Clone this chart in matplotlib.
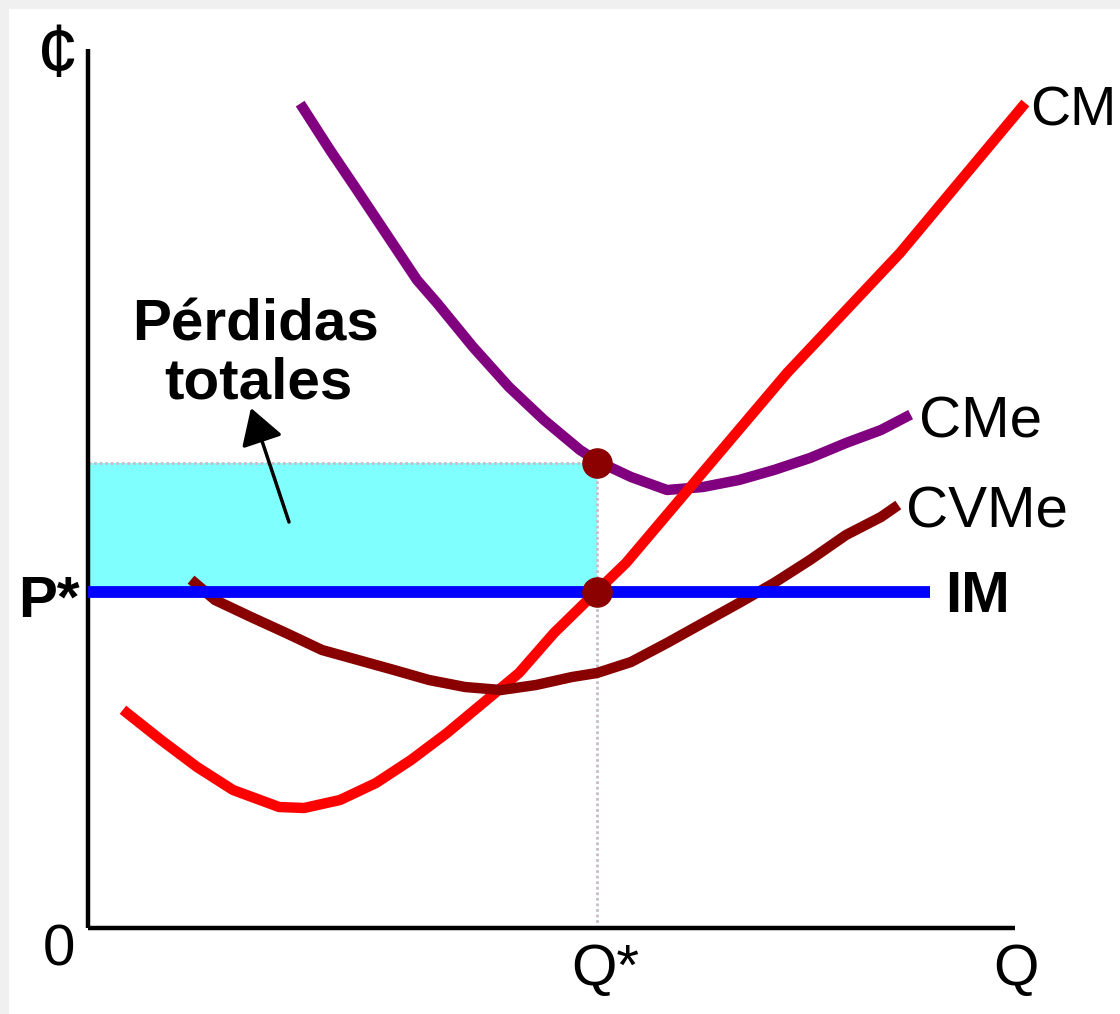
import matplotlib
matplotlib.use('Agg')
import matplotlib.pyplot as plt

plt.rcParams['font.family'] = ['Liberation Sans', 'DejaVu Sans']

# cantidades (Q) y costes (¢)
q_star = 509
p_star = 336
cme_at_q = 465
im_end = 842

cm_q = [39, 73, 109, 145, 191, 216, 252, 288, 323, 359, 395, 431, 466, 509, 538, 699, 812, 934]
cm_c = [215, 188, 161, 138, 121, 120, 128, 145, 168, 195, 225, 255, 295, 337, 365, 555, 675, 821]

cme_q = [215, 242, 269, 297, 329, 349, 385, 421, 456, 492, 509, 543, 579, 615, 651, 686, 722, 758, 793, 818]
cme_c = [820, 778, 738, 696, 648, 625, 581, 541, 508, 478, 467, 451, 438, 441, 448, 458, 470, 485, 498, 511]

cvme_q = [107, 127, 163, 198, 234, 270, 306, 341, 377, 413, 448, 484, 509, 543, 579, 615, 651, 686, 722, 758, 793, 806]
cvme_c = [345, 328, 311, 295, 278, 268, 258, 248, 241, 238, 243, 251, 255, 266, 285, 305, 325, 345, 368, 393, 411, 420]

W, H = 1120, 1014
fig = plt.figure(figsize=(W / 100, H / 100), dpi=100, facecolor='#f0f0f0')
ax = fig.add_axes([9 / W, 0, 1 - 9 / W, 1 - 9 / H])
ax.set_facecolor('white')
ax.set_xlim(9 - 88, W - 88)
ax.set_ylim(928 - H, 928 - 9)
ax.set_xticks([])
ax.set_yticks([])
for s in ax.spines.values():
    s.set_visible(False)

# perdidas totales
ax.fill_between([0, q_star], p_star, cme_at_q, color='#80ffff', lw=0, zorder=1)
ax.plot([0, q_star], [cme_at_q, cme_at_q], color='#c8bcc8', lw=2, ls=(0, (1, 1)), zorder=2)
ax.plot([q_star, q_star], [0, cme_at_q], color='#c8bcc8', lw=2, ls=(0, (1, 1)), zorder=2)

# ejes
ax.plot([0, 0], [0, 879], color='black', lw=3.2, solid_capstyle='butt', zorder=3)
ax.plot([0, 927], [0, 0], color='black', lw=3.2, solid_capstyle='butt', zorder=3)

# curvas
ax.plot(cme_q, cme_c, color='#800080', lw=7.5, solid_joinstyle='round', zorder=4)
ax.plot(cm_q, cm_c, color='#ff0000', lw=7.5, solid_joinstyle='round', zorder=5)
ax.plot(cvme_q, cvme_c, color='#880000', lw=7.5, solid_joinstyle='round', zorder=6)
ax.plot([0, im_end], [p_star, p_star], color='#0000ff', lw=8.5, solid_capstyle='butt', zorder=7)

ax.plot([q_star, q_star], [cme_at_q, p_star], 'o', color='#8b0000', ms=21, zorder=8)

fs = 42
ax.text(-30, 872, '¢', fontsize=54, ha='center', va='center')
ax.text(-70, 311, 'P*', fontsize=fs, fontweight='bold', ha='left', va='baseline')
ax.text(-29, -38, '0', fontsize=fs, ha='center', va='baseline')
ax.text(483, -57, 'Q*', fontsize=fs, ha='left', va='baseline')
ax.text(905, -57, 'Q', fontsize=fs, ha='left', va='baseline')
ax.text(942, 803, 'CM', fontsize=40, ha='left', va='baseline')
ax.text(831, 491, 'CMe', fontsize=fs, ha='left', va='baseline')
ax.text(818, 401, 'CVMe', fontsize=fs, ha='left', va='baseline')
ax.text(857, 316, 'IM', fontsize=fs, fontweight='bold', ha='left', va='baseline')
ax.text(44, 588, 'Pérdidas', fontsize=fs, fontweight='bold', ha='left', va='baseline')
ax.text(76, 530, 'totales', fontsize=fs, fontweight='bold', ha='left', va='baseline')

ax.annotate('', xy=(163, 520), xytext=(201, 406),
            arrowprops=dict(arrowstyle='-|>,head_length=1.0,head_width=0.6',
                            lw=2.5, color='black', shrinkA=0, shrinkB=0,
                            mutation_scale=22),
            zorder=9)

fig.savefig('out.png', dpi=100, facecolor=fig.get_facecolor())
